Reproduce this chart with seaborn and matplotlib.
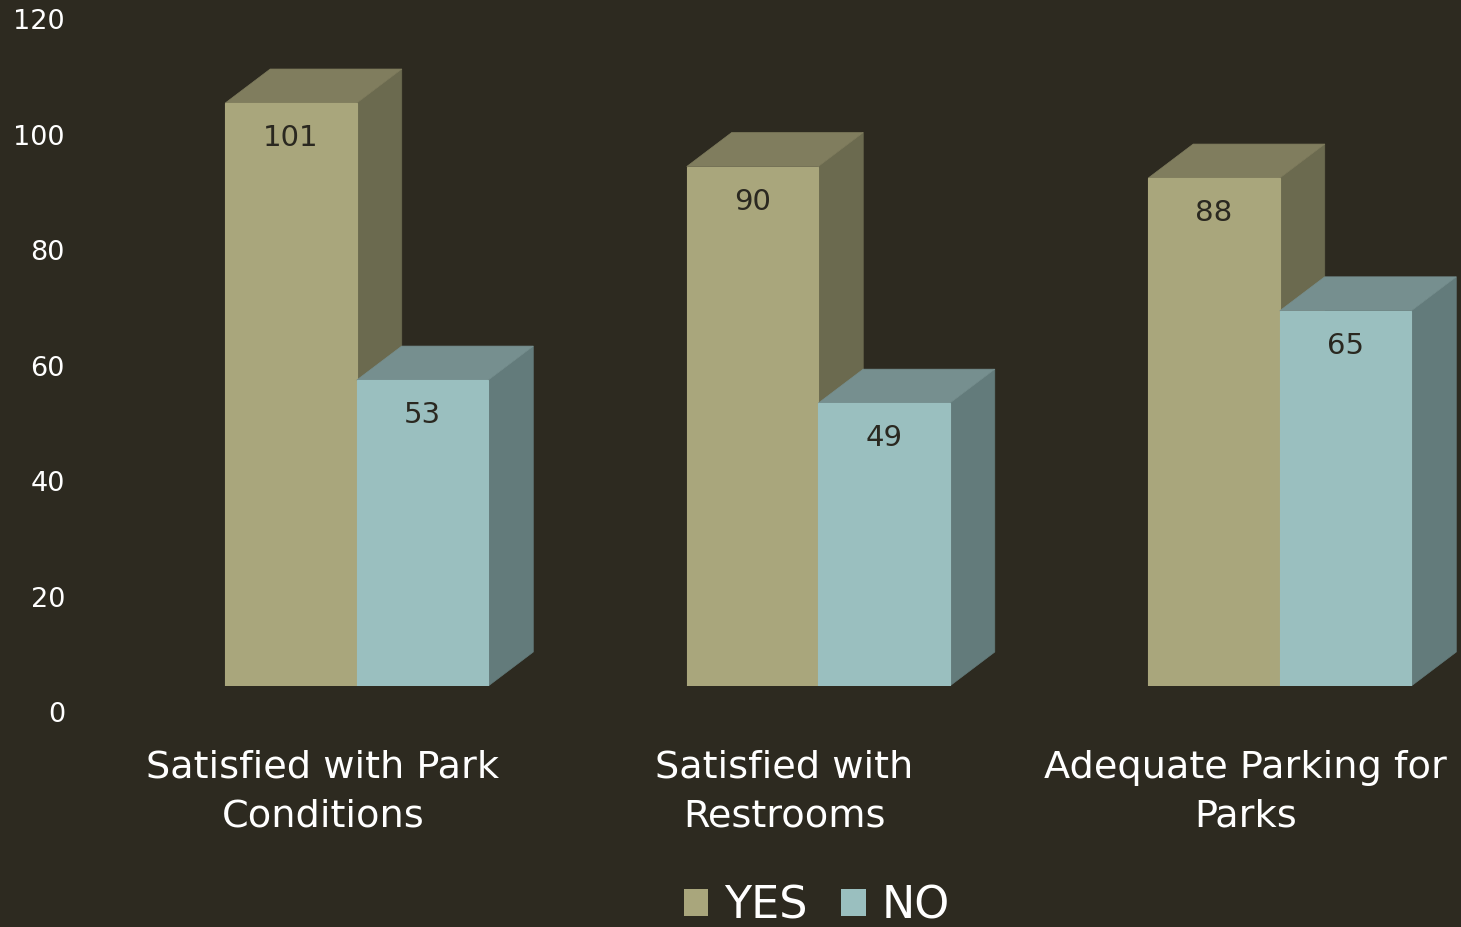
import numpy as np
import pandas as pd
import seaborn as sns
import matplotlib
matplotlib.use('Agg')
import matplotlib.pyplot as plt
from matplotlib.patches import Polygon
from matplotlib.transforms import ScaledTranslation

# chart data
categories = ["Satisfied with Park\nConditions", "Satisfied with\nRestrooms", "Adequate Parking for\nParks"]
yes_values = [101, 90, 88]
no_values = [53, 49, 65]
series = ["YES", "NO"]
y_ticks = [0, 20, 40, 60, 80, 100, 120]

bg = "#2d2a20"
front = {"YES": "#a9a67c", "NO": "#9abfbf"}
side = {"YES": "#6b6a4f", "NO": "#637b7b"}
top = {"YES": "#807d5e", "NO": "#768f8f"}

df = pd.DataFrame({
    "category": categories * 2,
    "response": ["YES"] * 3 + ["NO"] * 3,
    "value": yes_values + no_values,
})

sns.set_theme(style="dark")
plt.rcParams['font.family'] = ['DejaVu Sans']

W, H, dpi = 1461, 927, 100
fig = plt.figure(figsize=(W / dpi, H / dpi), dpi=dpi, facecolor=bg)

# axes placed in pixels: front-face baseline at y=686, left edge at x=126
left_px, base_px, top_px = 126, 686, -50
ax = fig.add_axes([left_px / W, (H - base_px) / H, (W - left_px) / W, (base_px - top_px) / H])
ax.set_facecolor(bg)

px_per_x = 461.5
px_per_y = 5.772

sns.barplot(data=df, x="category", y="value", hue="response", hue_order=series,
            palette=[front[s] for s in series], width=0.57, saturation=1,
            order=categories, ax=ax, legend=False, zorder=1)

ax.set_xlim(-0.5, -0.5 + (W - left_px) / px_per_x)
ax.set_ylim(0, (base_px - top_px) / px_per_y)

# 3D depth in data units
dx = 45 / px_per_x
dy = 34 / px_per_y

for i, (cont, s) in enumerate(zip(ax.containers, series)):
    z = 2 + 2 * i
    for bar in cont:
        x0, w, h = bar.get_x(), bar.get_width(), bar.get_height()
        x1 = x0 + w
        bar.set_zorder(z + 1)
        bar.set_edgecolor(front[s])
        bar.set_linewidth(0.8)
        ax.add_patch(Polygon([(x1, 0), (x1 + dx, dy), (x1 + dx, h + dy), (x1, h)],
                             closed=True, facecolor=side[s], edgecolor=side[s], lw=0.5, zorder=z))
        ax.add_patch(Polygon([(x0, h), (x0 + dx, h + dy), (x1 + dx, h + dy), (x1, h)],
                             closed=True, facecolor=top[s], edgecolor=top[s], lw=0.5, zorder=z))
        ax.annotate(f"{h:.0f}", xy=(x0 + w / 2, h), xytext=(0, -35), textcoords="offset pixels",
                    ha="center", va="center", fontsize=21, color="#2a2820", zorder=z + 2)

for sp in ax.spines.values():
    sp.set_visible(False)
ax.grid(False)
ax.set_xlabel("")
ax.set_ylabel("")

ax.set_yticks(y_ticks)
ax.set_yticklabels([str(t) for t in y_ticks])
ax.tick_params(axis="y", length=0, pad=44, labelsize=19.5, labelcolor="white")
ax.tick_params(axis="x", length=0, pad=46, labelsize=27.5, labelcolor="white")
for lab in ax.get_yticklabels():
    lab.set_transform(lab.get_transform() + ScaledTranslation(0, -0.26, fig.dpi_scale_trans))
for lab in ax.get_xticklabels():
    lab.set_transform(lab.get_transform() + ScaledTranslation(-0.34, 0, fig.dpi_scale_trans))
    lab.set_linespacing(1.45)

handles = [plt.Rectangle((0, 0), 1, 1, facecolor=front[s], edgecolor="none") for s in series]
leg = fig.legend(handles, series, loc="center", bbox_to_anchor=(817 / W, 21 / H), ncol=2,
                 frameon=False, fontsize=32, handlelength=0.55, handleheight=0.55,
                 handletextpad=0.36, columnspacing=0.75, labelcolor="white")

fig.savefig("out.png", dpi=dpi, facecolor=bg)
